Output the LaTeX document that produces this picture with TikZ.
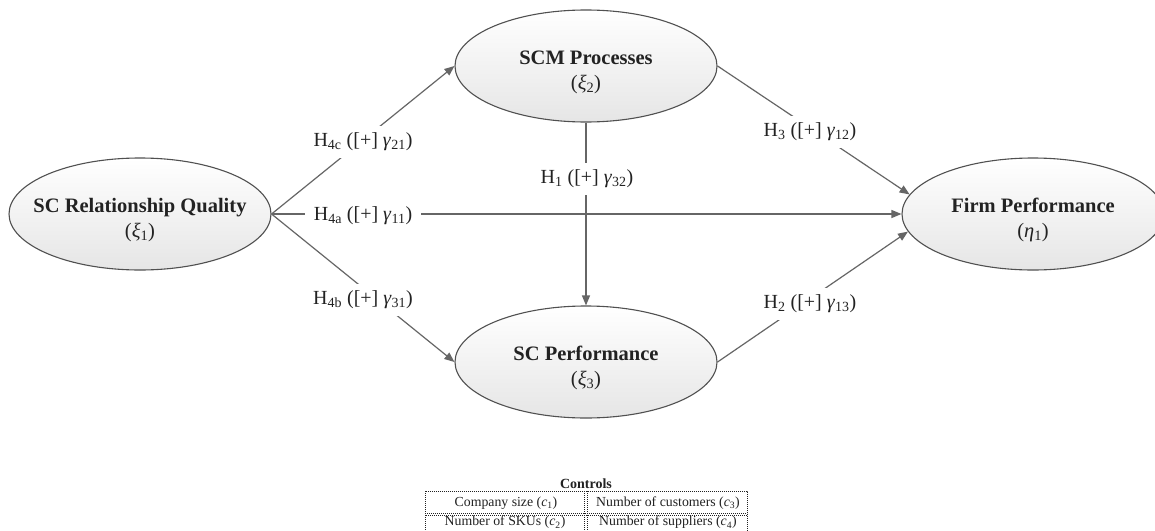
\documentclass[tikz,border=0pt]{standalone}
\usepackage{fontspec}
\setmainfont{Liberation Serif}
\usetikzlibrary{shapes.geometric,arrows.meta,shadings}
\definecolor{edgegray}{HTML}{666666}
\definecolor{bordergray}{HTML}{505050}
\definecolor{inkdark}{HTML}{222222}
\begin{document}
\begin{tikzpicture}[x=1pt,y=-1pt,
  construct/.style={ellipse, draw=bordergray, line width=1.1pt,
    top color=white, bottom color=black!10,
    minimum width=262pt, minimum height=112pt, inner sep=0pt,
    align=center, text=inkdark, font=\fontsize{20.5}{25}\selectfont},
  conn/.style={draw=edgegray, line width=1.2pt,
    -{Triangle[length=10pt,width=8pt]}},
  hyp/.style={fill=white, inner xsep=9pt, inner ysep=7pt, text=inkdark,
    font=\fontsize{20}{24}\selectfont},
  cell/.style={inner sep=0pt, text=inkdark, font=\fontsize{13.8}{16}\selectfont},
  dotline/.style={draw=inkdark, line width=0.8pt, dash pattern=on 0.8pt off 1.2pt}
]
\clip (0,0) rectangle (1155,530);
\fill[white] (0,0) rectangle (1155,530);

% constructs
\node[construct] (rq)  at (140,214) {\rule{0pt}{26pt}\makebox[0pt]{\bfseries SC Relationship Quality}\\\makebox[0pt]{(\textit{ξ}\textsubscript{1})}};
\node[construct] (scm) at (586,66)  {\rule{0pt}{26pt}\makebox[0pt]{\bfseries SCM Processes}\\\makebox[0pt]{(\textit{ξ}\textsubscript{2})}};
\node[construct] (scp) at (586,362) {\rule{0pt}{26pt}\makebox[0pt]{\bfseries SC Performance}\\\makebox[0pt]{(\textit{ξ}\textsubscript{3})}};
\node[construct] (fp)  at (1033,214) {\rule{0pt}{26pt}\makebox[0pt]{\bfseries Firm Performance}\\\makebox[0pt]{(\textit{η}\textsubscript{1})}};

% connectors
\draw[conn] (rq.east) -- (scm.west);
\draw[conn] (rq.east) -- (fp.west);
\draw[conn] (rq.east) -- (scp.west);
\draw[conn] (scm.south) -- (scp.north);
\draw[conn] (scm.east) -- (fp.171.7);
\draw[conn] (scp.east) -- (fp.188.3);

% hypothesis labels
\node[hyp] (h4c) at (363,142) {H\textsubscript{4c} ([+] \textit{γ}\textsubscript{21})};
\node[hyp] (h4a) at (363,216) {H\textsubscript{4a} ([+] \textit{γ}\textsubscript{11})};
\node[hyp] (h4b) at (363,300) {H\textsubscript{4b} ([+] \textit{γ}\textsubscript{31})};
\node[hyp] (h1)  at (587,179) {H\textsubscript{1} ([+] \textit{γ}\textsubscript{32})};
\node[hyp] (h3)  at (810,132) {H\textsubscript{3} ([+] \textit{γ}\textsubscript{12})};
\node[hyp] (h2)  at (810,304) {H\textsubscript{2} ([+] \textit{γ}\textsubscript{13})};

% controls table
\node[text=inkdark, font=\fontsize{14}{16}\selectfont\bfseries] (ctl) at (586,484) {Controls};
\draw[dotline] (425,491) rectangle (747,537);
\draw[dotline] (425,513.5) -- (747,513.5);
\draw[dotline, dash phase=1pt] (425,515.3) -- (747,515.3);
\draw[dotline] (584.3,491) -- (584.3,537);
\draw[dotline] (587,491) -- (587,537);
\node[cell] (c1) at (506,503) {Company size (\textit{c}\textsubscript{1})};
\node[cell] (c3) at (668,503) {Number of customers (\textit{c}\textsubscript{3})};
\node[cell] (c2) at (505,522.5) {Number of SKUs (\textit{c}\textsubscript{2})};
\node[cell] (c4) at (668,522.5) {Number of suppliers (\textit{c}\textsubscript{4})};
\end{tikzpicture}
\end{document}
